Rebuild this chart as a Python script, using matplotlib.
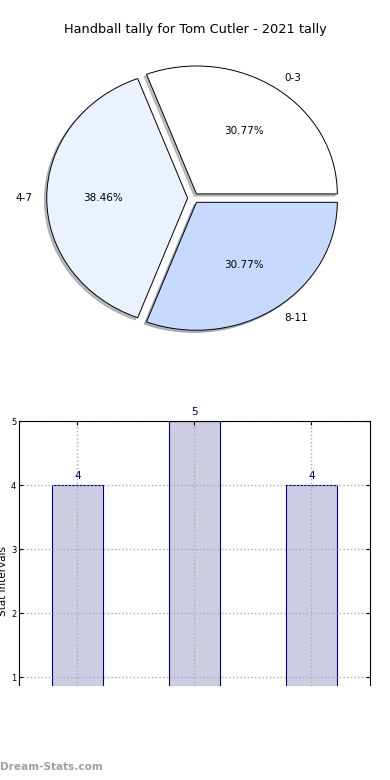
import matplotlib
matplotlib.use('Agg')
import matplotlib.pyplot as plt
from matplotlib.patches import Rectangle

# datos
titulo = 'Handball tally for Tom Cutler - 2021 tally'
intervalos = ['0-3', '4-7', '8-11']
conteos = [4, 5, 4]
colores_pie = ['#ffffff', '#eaf1ff', '#c6d9ff']
ticks_y = [1, 2, 3, 4, 5]

fig = plt.figure(figsize=(3.9, 7.8), dpi=100)
fig.patch.set_facecolor('white')

fig.text(0.5, 0.962, titulo, ha='center', va='center', fontsize=9.3)

# Pie
ax1 = fig.add_axes([0.044, 0.541, 0.903, 0.41])
ax1.pie(conteos, labels=intervalos, colors=colores_pie, autopct='%.2f%%',
        explode=[0.04] * len(conteos),
        shadow={'ox': -0.012, 'oy': -0.012, 'shade': 0.5},
        startangle=0,
        wedgeprops={'edgecolor': 'black', 'linewidth': 0.7},
        textprops={'fontsize': 7.5})
ax1.set_aspect('auto')
ax1.set_xlim(-1.25, 1.25)
ax1.set_ylim(-1.25, 1.25)

# Barras
ax2 = fig.add_axes([0.0487, 0.05, 0.9, 0.41])
x = list(range(len(conteos)))
ax2.bar(x, conteos, width=0.44, color='#ccccE2', edgecolor='#000080', linewidth=0.8, zorder=2)
for xi, v in zip(x, conteos):
    ax2.text(xi, v + 0.06, str(v), ha='center', va='bottom', fontsize=7.5, color='#000080')
ax2.set_xlim(-0.5, 2.5)
ax2.set_ylim(0, 5)
ax2.set_yticks(ticks_y)
ax2.set_xticks(x)
ax2.set_xticklabels([])
ax2.tick_params(axis='both', direction='in', labelsize=6, length=3, top=True, right=True, bottom=False, pad=2)
ax2.grid(True, linestyle=':', color='#aaaaaa', linewidth=1, zorder=3)
ax2.set_axisbelow(False)
for sp in ax2.spines.values():
    sp.set_zorder(4)
ax2.set_ylabel('Stat Intervals', fontsize=7.5, labelpad=2)

# corte inferior
fig.patches.append(Rectangle((0, 0), 1, 94 / 780, transform=fig.transFigure,
                             facecolor='white', edgecolor='none', zorder=10))
fig.text(0.0, 0.013, 'Dream-Stats.com', fontsize=7.6, color='#a0a0a0', fontweight='bold', zorder=11)

fig.savefig('out.png', dpi=100)
